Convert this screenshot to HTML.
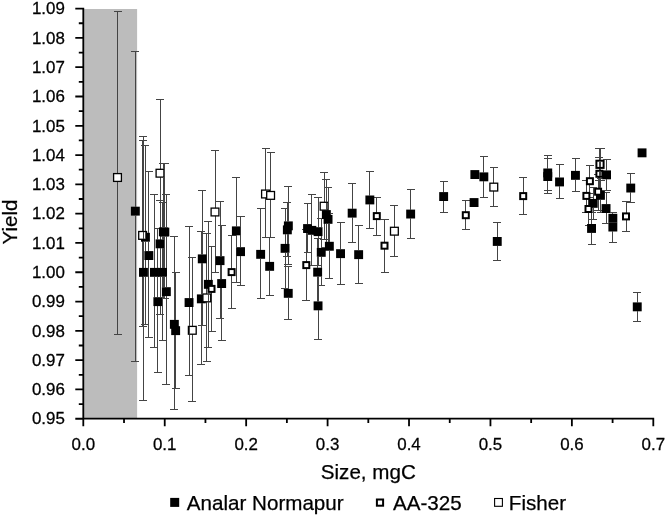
<!DOCTYPE html>
<html><head><meta charset="utf-8"><title>Yield vs Size</title>
<style>
html,body{margin:0;padding:0;background:#fff;}
body{width:667px;height:516px;overflow:hidden;}
svg{display:block;font-family:"Liberation Sans",sans-serif;fill:#000;}
text{stroke:#000;stroke-width:0.25;}
.eb{stroke:#444;stroke-width:1;fill:none;shape-rendering:crispEdges;}
.top{mix-blend-mode:darken;}
.ax{stroke:#000;stroke-width:1.8;fill:none;}
.f{fill:#000;stroke:none;}
.o{fill:#fff;stroke:#000;stroke-width:1.3;}
.a{fill:#fff;stroke:#000;stroke-width:2;}
</style></head><body>
<svg width="667" height="516" viewBox="0 0 667 516">
<rect x="0" y="0" width="667" height="516" fill="#fff"/>
<rect x="83.3" y="9" width="53.8" height="409" fill="#bcbcbc"/>
<path class="eb" d="M117.5 11.2V334.0M113.5 11.2h8.0M113.5 334.0h8.0M142.6 140.8V326.0M138.6 140.8h8.0M138.6 326.0h8.0M160.0 99.2V244.0M156.0 99.2h8.0M156.0 244.0h8.0M192.3 257.3V401.4M188.3 257.3h8.0M188.3 401.4h8.0M206.8 233.6V361.3M202.8 233.6h8.0M202.8 361.3h8.0M211.5 246.5V331.5M207.5 246.5h8.0M207.5 331.5h8.0M215.0 150.2V272.5M211.0 150.2h8.0M211.0 272.5h8.0M231.6 235.2V308.1M227.6 235.2h8.0M227.6 308.1h8.0M265.5 148.9V237.5M261.5 148.9h8.0M261.5 237.5h8.0M270.6 152.5V237.9M266.6 152.5h8.0M266.6 237.9h8.0M306.3 229.0V300.5M302.3 229.0h8.0M302.3 300.5h8.0M324.1 172.7V239.0M320.1 172.7h8.0M320.1 239.0h8.0M376.8 197.7V235.0M372.8 197.7h8.0M372.8 235.0h8.0M384.5 219.0V272.4M380.5 219.0h8.0M380.5 272.4h8.0M394.4 205.5V256.9M390.4 205.5h8.0M390.4 256.9h8.0M465.8 200.8V229.2M461.8 200.8h8.0M461.8 229.2h8.0M493.8 167.3V206.7M489.8 167.3h8.0M489.8 206.7h8.0M523.2 177.7V214.3M519.2 177.7h8.0M519.2 214.3h8.0M589.9 165.0V197.0M585.9 165.0h8.0M585.9 197.0h8.0M599.4 157.6V190.0M595.4 157.6h8.0M595.4 190.0h8.0M598.1 174.0V210.2M594.1 174.0h8.0M594.1 210.2h8.0M586.4 180.0V212.0M582.4 180.0h8.0M582.4 212.0h8.0M588.5 193.0V225.0M584.5 193.0h8.0M584.5 225.0h8.0M626.0 201.8V231.4M622.0 201.8h8.0M622.0 231.4h8.0"/>
<path class="ax" d="M83.3 7.8V419.4M82.5 418.7H654.2M75.3 418.73H83.3M75.3 389.44H83.3M75.3 360.14H83.3M75.3 330.85H83.3M75.3 301.55H83.3M75.3 272.26H83.3M75.3 242.96H83.3M75.3 213.67H83.3M75.3 184.37H83.3M75.3 155.08H83.3M75.3 125.78H83.3M75.3 96.49H83.3M75.3 67.19H83.3M75.3 37.90H83.3M75.3 8.60H83.3M78.8 404.08H83.3M78.8 374.79H83.3M78.8 345.49H83.3M78.8 316.20H83.3M78.8 286.90H83.3M78.8 257.61H83.3M78.8 228.31H83.3M78.8 199.02H83.3M78.8 169.72H83.3M78.8 140.43H83.3M78.8 111.13H83.3M78.8 81.84H83.3M78.8 52.54H83.3M78.8 23.25H83.3M83.30 418.7V426.2M164.73 418.7V426.2M246.16 418.7V426.2M327.59 418.7V426.2M409.02 418.7V426.2M490.45 418.7V426.2M571.88 418.7V426.2M653.31 418.7V426.2M124.02 418.7V423M205.44 418.7V423M286.88 418.7V423M368.31 418.7V423M449.74 418.7V423M531.16 418.7V423M612.60 418.7V423"/>
<rect class="f" x="130.9" y="206.7" width="8.9" height="8.9"/><rect class="f" x="139.0" y="267.9" width="8.9" height="8.9"/><rect class="f" x="141.0" y="232.8" width="8.9" height="8.9"/><rect class="f" x="144.4" y="251.1" width="8.9" height="8.9"/><rect class="f" x="150.0" y="267.9" width="8.9" height="8.9"/><rect class="f" x="158.1" y="267.9" width="8.9" height="8.9"/><rect class="f" x="155.6" y="239.4" width="8.9" height="8.9"/><rect class="f" x="158.9" y="227.4" width="8.9" height="8.9"/><rect class="f" x="160.4" y="227.6" width="8.9" height="8.9"/><rect class="f" x="161.9" y="287.2" width="8.9" height="8.9"/><rect class="f" x="153.4" y="297.2" width="8.9" height="8.9"/><rect class="f" x="169.9" y="319.9" width="8.9" height="8.9"/><rect class="f" x="171.2" y="326.2" width="8.9" height="8.9"/><rect class="f" x="184.6" y="298.1" width="8.9" height="8.9"/><rect class="f" x="197.8" y="254.4" width="8.9" height="8.9"/><rect class="f" x="196.9" y="294.4" width="8.9" height="8.9"/><rect class="f" x="203.9" y="279.9" width="8.9" height="8.9"/><rect class="f" x="215.6" y="256.2" width="8.9" height="8.9"/><rect class="f" x="217.2" y="279.1" width="8.9" height="8.9"/><rect class="f" x="231.9" y="226.4" width="8.9" height="8.9"/><rect class="f" x="236.1" y="247.2" width="8.9" height="8.9"/><rect class="f" x="256.2" y="249.9" width="8.9" height="8.9"/><rect class="f" x="265.2" y="261.9" width="8.9" height="8.9"/><rect class="f" x="283.9" y="221.4" width="8.9" height="8.9"/><rect class="f" x="282.9" y="225.4" width="8.9" height="8.9"/><rect class="f" x="280.6" y="243.9" width="8.9" height="8.9"/><rect class="f" x="283.8" y="288.9" width="8.9" height="8.9"/><rect class="f" x="303.1" y="224.1" width="8.9" height="8.9"/><rect class="f" x="307.4" y="225.9" width="8.9" height="8.9"/><rect class="f" x="313.6" y="227.2" width="8.9" height="8.9"/><rect class="f" x="316.8" y="247.9" width="8.9" height="8.9"/><rect class="f" x="324.9" y="241.8" width="8.9" height="8.9"/><rect class="f" x="313.2" y="267.7" width="8.9" height="8.9"/><rect class="f" x="313.6" y="301.4" width="8.9" height="8.9"/><rect class="f" x="321.9" y="210.1" width="8.9" height="8.9"/><rect class="f" x="323.6" y="214.9" width="8.9" height="8.9"/><rect class="f" x="336.1" y="249.2" width="8.9" height="8.9"/><rect class="f" x="347.7" y="208.7" width="8.9" height="8.9"/><rect class="f" x="354.2" y="250.2" width="8.9" height="8.9"/><rect class="f" x="365.4" y="195.5" width="8.9" height="8.9"/><rect class="f" x="406.2" y="209.6" width="8.9" height="8.9"/><rect class="f" x="439.2" y="192.1" width="8.9" height="8.9"/><rect class="f" x="469.6" y="198.1" width="8.9" height="8.9"/><rect class="f" x="470.4" y="170.1" width="8.9" height="8.9"/><rect class="f" x="479.4" y="172.4" width="8.9" height="8.9"/><rect class="f" x="492.8" y="237.0" width="8.9" height="8.9"/><rect class="f" x="543.3" y="168.5" width="8.9" height="8.9"/><rect class="f" x="543.3" y="172.1" width="8.9" height="8.9"/><rect class="f" x="555.1" y="177.5" width="8.9" height="8.9"/><rect class="f" x="571.0" y="170.9" width="8.9" height="8.9"/><rect class="f" x="602.1" y="170.4" width="8.9" height="8.9"/><rect class="f" x="596.0" y="190.9" width="8.9" height="8.9"/><rect class="f" x="588.8" y="198.9" width="8.9" height="8.9"/><rect class="f" x="601.6" y="204.1" width="8.9" height="8.9"/><rect class="f" x="608.4" y="213.8" width="8.9" height="8.9"/><rect class="f" x="608.4" y="222.6" width="8.9" height="8.9"/><rect class="f" x="587.1" y="224.0" width="8.9" height="8.9"/><rect class="f" x="626.3" y="183.6" width="8.9" height="8.9"/><rect class="f" x="637.6" y="148.4" width="8.9" height="8.9"/><rect class="f" x="632.8" y="302.4" width="8.9" height="8.9"/>
<rect class="a" x="208.50" y="285.90" width="6.0" height="6.0"/><rect class="a" x="228.60" y="269.10" width="6.0" height="6.0"/><rect class="a" x="303.30" y="262.10" width="6.0" height="6.0"/><rect class="a" x="373.80" y="213.10" width="6.0" height="6.0"/><rect class="a" x="381.50" y="242.70" width="6.0" height="6.0"/><rect class="a" x="462.80" y="212.20" width="6.0" height="6.0"/><rect class="a" x="520.20" y="193.10" width="6.0" height="6.0"/><rect class="a" x="586.90" y="178.20" width="6.0" height="6.0"/><rect class="a" x="596.40" y="160.70" width="7.2" height="7.2"/><rect class="a" x="596.40" y="170.80" width="6.0" height="6.0"/><rect class="a" x="595.10" y="188.70" width="6.0" height="6.0"/><rect class="a" x="583.40" y="192.90" width="6.0" height="6.0"/><rect class="a" x="585.50" y="206.00" width="6.0" height="6.0"/><rect class="a" x="623.00" y="213.40" width="6.0" height="6.0"/>
<rect class="o" x="113.6" y="173.6" width="7.8" height="7.8"/><rect class="o" x="138.7" y="231.5" width="7.8" height="7.8"/><rect class="o" x="156.1" y="169.3" width="7.8" height="7.8"/><rect class="o" x="188.4" y="326.4" width="7.8" height="7.8"/><rect class="o" x="202.9" y="294.0" width="7.8" height="7.8"/><rect class="o" x="211.1" y="208.1" width="7.8" height="7.8"/><rect class="o" x="261.6" y="190.1" width="7.8" height="7.8"/><rect class="o" x="266.7" y="191.5" width="7.8" height="7.8"/><rect class="o" x="320.2" y="202.3" width="7.8" height="7.8"/><rect class="o" x="390.5" y="227.3" width="7.8" height="7.8"/><rect class="o" x="489.9" y="183.2" width="7.8" height="7.8"/>
<path class="eb top" d="M135.3 51.2V361.2M131.3 51.2h8.0M131.3 361.2h8.0M143.4 136.7V400.8M139.4 136.7h8.0M139.4 400.8h8.0M145.4 145.7V324.3M141.4 145.7h8.0M141.4 324.3h8.0M148.8 171.4V337.3M144.8 171.4h8.0M144.8 337.3h8.0M154.4 194.5V347.4M150.4 194.5h8.0M150.4 347.4h8.0M162.5 202.4V340.0M158.5 202.4h8.0M158.5 340.0h8.0M160.0 200.0V314.5M156.0 200.0h8.0M156.0 314.5h8.0M163.3 163.0V298.2M159.3 163.0h8.0M159.3 298.2h8.0M164.8 163.6V298.6M160.8 163.6h8.0M160.8 298.6h8.0M166.3 194.0V384.9M162.3 194.0h8.0M162.3 384.9h8.0M157.8 228.0V372.7M153.8 228.0h8.0M153.8 372.7h8.0M174.3 236.6V409.1M170.3 236.6h8.0M170.3 409.1h8.0M175.7 272.3V388.4M171.7 272.3h8.0M171.7 388.4h8.0M189.0 226.4V375.7M185.0 226.4h8.0M185.0 375.7h8.0M202.2 190.9V325.2M198.2 190.9h8.0M198.2 325.2h8.0M201.3 231.8V364.5M197.3 231.8h8.0M197.3 364.5h8.0M208.3 221.0V347.4M204.3 221.0h8.0M204.3 347.4h8.0M220.0 201.7V318.6M216.0 201.7h8.0M216.0 318.6h8.0M221.6 225.8V340.5M217.6 225.8h8.0M217.6 340.5h8.0M236.3 177.7V282.6M232.3 177.7h8.0M232.3 282.6h8.0M240.5 216.5V285.9M236.5 216.5h8.0M236.5 285.9h8.0M260.6 208.7V298.7M256.6 208.7h8.0M256.6 298.7h8.0M269.6 237.0V295.5M265.6 237.0h8.0M265.6 295.5h8.0M288.3 186.4V264.0M284.3 186.4h8.0M284.3 264.0h8.0M287.3 202.6V256.4M283.3 202.6h8.0M283.3 256.4h8.0M285.0 208.4V288.0M281.0 208.4h8.0M281.0 288.0h8.0M288.2 266.7V319.7M284.2 266.7h8.0M284.2 319.7h8.0M307.5 203.5V252.8M303.5 203.5h8.0M303.5 252.8h8.0M311.8 194.9V265.5M307.8 194.9h8.0M307.8 265.5h8.0M318.0 197.2V265.5M314.0 197.2h8.0M314.0 265.5h8.0M321.2 218.3V285.3M317.2 218.3h8.0M317.2 285.3h8.0M329.3 213.8V278.4M325.3 213.8h8.0M325.3 278.4h8.0M317.7 238.3V305.0M313.7 238.3h8.0M313.7 305.0h8.0M318.0 272.0V339.5M314.0 272.0h8.0M314.0 339.5h8.0M326.3 179.9V247.4M322.3 179.9h8.0M322.3 247.4h8.0M328.0 187.3V250.5M324.0 187.3h8.0M324.0 250.5h8.0M340.5 222.3V284.4M336.5 222.3h8.0M336.5 284.4h8.0M352.1 183.0V242.7M348.1 183.0h8.0M348.1 242.7h8.0M358.6 225.7V283.6M354.6 225.7h8.0M354.6 283.6h8.0M369.8 171.6V228.3M365.8 171.6h8.0M365.8 228.3h8.0M410.6 189.1V238.3M406.6 189.1h8.0M406.6 238.3h8.0M443.6 181.5V212.2M439.6 181.5h8.0M439.6 212.2h8.0M483.9 156.5V197.2M479.9 156.5h8.0M479.9 197.2h8.0M497.2 222.2V260.9M493.2 222.2h8.0M493.2 260.9h8.0M547.8 155.6V190.7M543.8 155.6h8.0M543.8 190.7h8.0M547.8 158.5V193.4M543.8 158.5h8.0M543.8 193.4h8.0M559.6 164.6V198.5M555.6 164.6h8.0M555.6 198.5h8.0M575.5 158.6V191.4M571.5 158.6h8.0M571.5 191.4h8.0M599.0 148.7V180.0M595.0 148.7h8.0M595.0 180.0h8.0M600.9 148.7V180.0M596.9 148.7h8.0M596.9 180.0h8.0M606.6 159.3V190.2M602.6 159.3h8.0M602.6 190.2h8.0M600.5 178.0V212.0M596.5 178.0h8.0M596.5 212.0h8.0M593.2 187.0V219.4M589.2 187.0h8.0M589.2 219.4h8.0M606.1 192.7V223.6M602.1 192.7h8.0M602.1 223.6h8.0M612.9 212.5V224.0M608.9 212.5h8.0M608.9 224.0h8.0M612.9 212.5V242.2M608.9 212.5h8.0M608.9 242.2h8.0M591.6 212.5V244.3M587.6 212.5h8.0M587.6 244.3h8.0M630.8 173.1V202.3M626.8 173.1h8.0M626.8 202.3h8.0M637.2 292.5V321.0M633.2 292.5h8.0M633.2 321.0h8.0"/>
<text transform="translate(64.8 424.4) scale(1.05 1)" font-size="16.1" text-anchor="end">0.95</text><text transform="translate(64.8 395.1) scale(1.05 1)" font-size="16.1" text-anchor="end">0.96</text><text transform="translate(64.8 365.8) scale(1.05 1)" font-size="16.1" text-anchor="end">0.97</text><text transform="translate(64.8 336.5) scale(1.05 1)" font-size="16.1" text-anchor="end">0.98</text><text transform="translate(64.8 307.3) scale(1.05 1)" font-size="16.1" text-anchor="end">0.99</text><text transform="translate(64.8 278.0) scale(1.05 1)" font-size="16.1" text-anchor="end">1.00</text><text transform="translate(64.8 248.7) scale(1.05 1)" font-size="16.1" text-anchor="end">1.01</text><text transform="translate(64.8 219.4) scale(1.05 1)" font-size="16.1" text-anchor="end">1.02</text><text transform="translate(64.8 190.1) scale(1.05 1)" font-size="16.1" text-anchor="end">1.03</text><text transform="translate(64.8 160.8) scale(1.05 1)" font-size="16.1" text-anchor="end">1.04</text><text transform="translate(64.8 131.5) scale(1.05 1)" font-size="16.1" text-anchor="end">1.05</text><text transform="translate(64.8 102.2) scale(1.05 1)" font-size="16.1" text-anchor="end">1.06</text><text transform="translate(64.8 72.9) scale(1.05 1)" font-size="16.1" text-anchor="end">1.07</text><text transform="translate(64.8 43.6) scale(1.05 1)" font-size="16.1" text-anchor="end">1.08</text><text transform="translate(64.8 14.3) scale(1.05 1)" font-size="16.1" text-anchor="end">1.09</text><text transform="translate(83.3 450.0) scale(1.05 1)" font-size="16.1" text-anchor="middle">0.0</text><text transform="translate(164.7 450.0) scale(1.05 1)" font-size="16.1" text-anchor="middle">0.1</text><text transform="translate(246.2 450.0) scale(1.05 1)" font-size="16.1" text-anchor="middle">0.2</text><text transform="translate(327.6 450.0) scale(1.05 1)" font-size="16.1" text-anchor="middle">0.3</text><text transform="translate(409.0 450.0) scale(1.05 1)" font-size="16.1" text-anchor="middle">0.4</text><text transform="translate(490.4 450.0) scale(1.05 1)" font-size="16.1" text-anchor="middle">0.5</text><text transform="translate(571.9 450.0) scale(1.05 1)" font-size="16.1" text-anchor="middle">0.6</text><text transform="translate(653.3 450.0) scale(1.05 1)" font-size="16.1" text-anchor="middle">0.7</text>
<text transform="translate(368.3 479.0) scale(1.0 1)" font-size="20.6" text-anchor="middle">Size, mgC</text><text transform="translate(17.0 222.0) rotate(-90) scale(1.0 1)" font-size="20.6" text-anchor="middle">Yield</text><rect class="f" x="170.2" y="497.9" width="9" height="9"/><text transform="translate(186.8 509.9) scale(1.0 1)" font-size="20.6" text-anchor="start">Analar Normapur</text><rect class="a" x="376.9" y="499.5" width="6.2" height="6.2"/><text transform="translate(393.0 509.9) scale(1.0 1)" font-size="20.6" text-anchor="start">AA-325</text><rect class="o" x="494.6" y="498.5" width="7.8" height="7.8" style="stroke-width:1.1"/><text transform="translate(508.8 509.9) scale(1.0 1)" font-size="20.6" text-anchor="start">Fisher</text>
</svg></body></html>
